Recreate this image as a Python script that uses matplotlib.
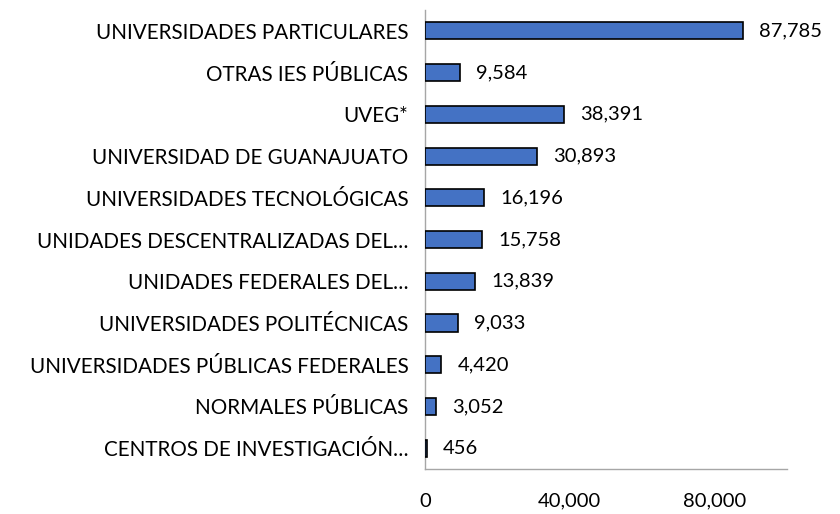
import matplotlib
matplotlib.use("Agg")
import matplotlib.pyplot as plt

categories = [
    'CENTROS DE INVESTIGACIÓN…',
    'NORMALES PÚBLICAS',
    'UNIVERSIDADES PÚBLICAS FEDERALES',
    'UNIVERSIDADES POLITÉCNICAS',
    'UNIDADES FEDERALES DEL…',
    'UNIDADES DESCENTRALIZADAS DEL…',
    'UNIVERSIDADES TECNOLÓGICAS',
    'UNIVERSIDAD DE GUANAJUATO',
    'UVEG*',
    'OTRAS IES PÚBLICAS',
    'UNIVERSIDADES PARTICULARES',
]
values = [456, 3052, 4420, 9033, 13839, 15758, 16196, 30893, 38391, 9584, 87785]
xticks = [0, 40000, 80000]

plt.rcParams['font.family'] = ['Lato', 'DejaVu Sans']
fs = 14.5

fig = plt.figure(figsize=(8.4, 5.14), dpi=100)
ax = fig.add_axes([0.506, 0.0875, 0.431, 0.893])

y = range(len(categories))
ax.barh(y, values, height=0.41, color='#4472C4', edgecolor='black', linewidth=1.2, zorder=3)
for yi, v in zip(y, values):
    ax.text(v + 4500, yi, f'{v:,}', va='center', ha='left', fontsize=fs, color='black')

ax.set_xlim(0, 100000)
ax.set_ylim(-0.5, len(categories) - 0.5)
ax.set_yticks(list(y))
ax.set_yticklabels(categories, fontsize=14.9)
ax.set_xticks(xticks)
ax.set_xticklabels([f'{t:,}' for t in xticks], fontsize=fs)
ax.tick_params(axis='both', length=0)
ax.tick_params(axis='x', pad=17)
ax.tick_params(axis='y', pad=12)

for s in ['top', 'right']:
    ax.spines[s].set_visible(False)
for s in ['left', 'bottom']:
    ax.spines[s].set_color('#A6A6A6')
    ax.spines[s].set_linewidth(1)

fig.savefig('out.png', dpi=100)
